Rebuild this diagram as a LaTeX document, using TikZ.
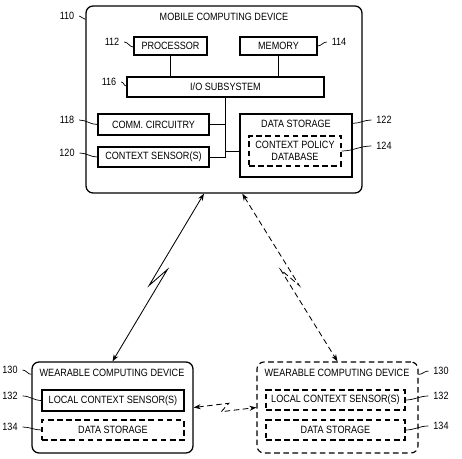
\documentclass[tikz,border=0pt]{standalone}
\usepackage{fontspec}
\setmainfont[FakeStretch=0.86]{Liberation Sans}
\usetikzlibrary{arrows.meta,calc,fit}

\tikzset{
	unitbox/.style={draw, black, line width=0.9pt, inner sep=0pt},
	devbox/.style={unitbox, rounded corners=5pt},
	dashbox/.style={unitbox, line width=0.8pt, dash pattern=on 4pt off 2.5pt},
	bus/.style={draw, black, line width=0.6pt},
	leader/.style={draw, black, line width=0.5pt},
	link/.style={draw, black, line width=0.6pt, {Stealth[length=5pt,width=3.6pt]}-{Stealth[length=5pt,width=3.6pt]}},
	zig/.style n args={2}{to path={-- ($(\tikztostart)!0.56!(\tikztotarget)!3pt!#1:(\tikztotarget)$) -- ($(\tikztostart)!0.44!(\tikztotarget)!3pt!#2:(\tikztotarget)$) -- (\tikztotarget) \tikztonodes}}
}

\begin{document}
\begin{tikzpicture}[x=0.025cm, y=-0.025cm, font=\fontsize{7.5}{8.5}\selectfont]
	\useasboundingbox (0,0) rectangle (462,459);
	%\draw [step=10,lightgray, very thin] (0,0) grid (462,459);
	% mobile computing device
	\node[devbox, fit={(86,6) (362,193)}] (mcd) {};
	\node (mcdtitle) at (224,17) {MOBILE COMPUTING DEVICE};
	\node[unitbox, fit={(134,37) (207,55)}, label=center:PROCESSOR] (proc) {};
	\node[unitbox, fit={(240,37) (317,55)}, label=center:MEMORY] (mem) {};
	\node[unitbox, fit={(127,77) (324,97)}, label=center:I/O SUBSYSTEM] (io) {};
	\node[unitbox, fit={(98,114) (209,135)}, label=center:COMM. CIRCUITRY] (comm) {};
	\node[unitbox, fit={(98,147) (209,167)}, label=center:CONTEXT SENSOR(S)] (sens) {};
	\node[unitbox, fit={(240,114) (352,177)}] (ds) {};
	\node (dstitle) at (296,124) {DATA STORAGE};
	\node[dashbox, fit={(249,136) (341,166)}, label={[align=center]center:CONTEXT POLICY\\DATABASE}] (cpd) {};

	% buses
	\coordinate (busend) at (io.south |- sens.east);
	\draw[bus] (proc.south) -- (proc.south |- io.north);
	\draw[bus] (mem.south) -- (mem.south |- io.north);
	\draw[bus] (io.south) -- (busend);
	\draw[bus] (comm.east) -- (comm.east -| io.south);
	\draw[bus] (sens.east) -- (busend);
	\draw[bus] (ds.west |- cpd.center) -- (ds.west |- cpd.center -| io.south);

	% wearable computing devices
	\node[devbox, fit={(32,362) (193,453)}] (wl) {};
	\node (wltitle) at (112,373) {WEARABLE COMPUTING DEVICE};
	\node[unitbox, fit={(42,390) (184,411)}, label=center:LOCAL CONTEXT SENSOR(S)] (wlsens) {};
	\node[dashbox, fit={(42,420) (184,440)}, label=center:DATA STORAGE] (wlds) {};

	\node[devbox, dashbox, rounded corners=5pt, fit={(257,362) (418,453)}] (wr) {};
	\node (wrtitle) at (337,373) {WEARABLE COMPUTING DEVICE};
	\node[dashbox, fit={(266,390) (405,410)}, label=center:LOCAL CONTEXT SENSOR(S)] (wrsens) {};
	\node[dashbox, fit={(266,420) (405,440)}, label=center:DATA STORAGE] (wrds) {};

	% links
	\draw[link] (mcd.258) to[zig={-90}{90}] (wl.north);
	\draw[link, dash pattern=on 4pt off 2.5pt] (mcd.281.5) to[zig={90}{-90}] (wr.north);
	\draw[link, dash pattern=on 4pt off 2.5pt] (wl.east) to[zig={90}{-90}] (wr.west);

	% reference numerals
	\node (l110) at (67,16) {110};
	\node (l112) at (112,42) {112};
	\node (l114) at (339,42) {114};
	\node (l116) at (109,82) {116};
	\node (l118) at (67,120) {118};
	\node (l120) at (67,153) {120};
	\node (l122) at (384,120) {122};
	\node (l124) at (384,146) {124};
	\node (l130a) at (10,370) {130};
	\node (l132a) at (10,396) {132};
	\node (l134a) at (10,427) {134};
	\node (l130b) at (441,371) {130};
	\node (l132b) at (441,396) {132};
	\node (l134b) at (441,426) {134};

	\draw[leader] (l110.east) to[out=0,in=180] ($(mcd.north west)+(0,14)$);
	\draw[leader] (l112.east) to[out=0,in=180] ($(proc.west)+(0,1)$);
	\draw[leader] (mem.east) to[out=0,in=180] (l114.west);
	\draw[leader] (l116.east) to[out=0,in=180] ($(io.west)+(0,-1)$);
	\draw[leader] (l118.east) to[out=0,in=180] (comm.west);
	\draw[leader] (l120.east) to[out=0,in=180] (sens.west);
	\draw[leader] ($(ds.north east)+(0,10)$) to[out=0,in=180] (l122.west);
	\draw[leader] (cpd.east) to[out=0,in=180] (l124.west);
	\draw[leader] (l130a.east) to[out=0,in=180] ($(wl.north west)+(0,13)$);
	\draw[leader] (l132a.east) to[out=0,in=180] (wlsens.west);
	\draw[leader] (l134a.east) to[out=0,in=180] (wlds.west);
	\draw[leader] ($(wr.north east)+(0,13)$) to[out=0,in=180] (l130b.west);
	\draw[leader] (wrsens.east) to[out=0,in=180] (l132b.west);
	\draw[leader] (wrds.east) to[out=0,in=180] (l134b.west);
\end{tikzpicture}
\end{document}
